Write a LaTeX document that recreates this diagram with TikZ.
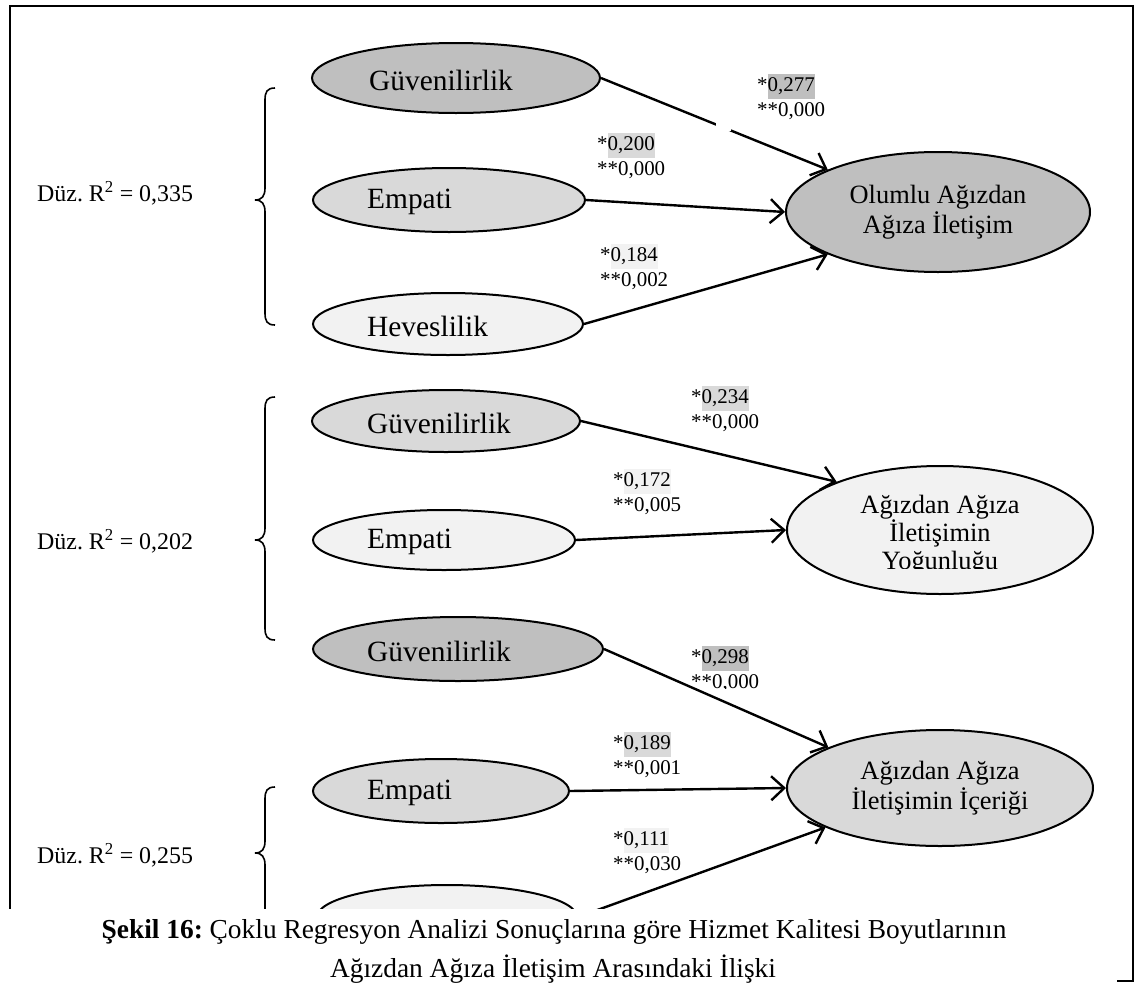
\documentclass[tikz,border=0pt]{standalone}
\usepackage{fontspec}
\setmainfont{Liberation Serif}
\usetikzlibrary{shapes.geometric,arrows.meta}
\definecolor{fillDark}{RGB}{191,191,191}
\definecolor{fillMid}{RGB}{217,217,217}
\definecolor{fillLight}{RGB}{242,242,242}
\frenchspacing
% shaded number, as in the coefficient labels
\newcommand{\hlbox}[2]{{\setlength{\fboxsep}{0pt}\colorbox{#1}{\strut #2}}}
% curly brace: spine x, top y, tip y, bottom y
\newcommand{\curlybrace}[4]{%
  \draw[bracestyle] (#1+10,#2) .. controls (#1+2,#2) and (#1,#2+4) .. (#1,#2+12)
    -- (#1,#3-12) .. controls (#1,#3-4) and (#1-3,#3) .. (#1-10,#3)
    .. controls (#1-3,#3) and (#1,#3+4) .. (#1,#3+12)
    -- (#1,#4-12) .. controls (#1,#4-4) and (#1+2,#4) .. (#1+10,#4);}
\begin{document}
\begin{tikzpicture}[x=1bp,y=-1bp,
  srcell/.style={ellipse, draw, line width=2bp, inner sep=0pt},
  dstell/.style={ellipse, draw, line width=2bp, inner sep=0pt, align=center,
    font=\fontsize{26.5}{30}\selectfont},
  srctext/.style={anchor=west, inner sep=0pt, font=\fontsize{29.5}{32}\selectfont},
  conn/.style={line width=2.4bp, -{Straight Barb[length=13bp,width=24bp]}},
  numlbl/.style={anchor=north west, inner sep=0pt, align=left,
    font=\fontsize{21}{25}\selectfont},
  rsq/.style={anchor=west, inner sep=0pt, font=\fontsize{24}{28}\selectfont},
  bracestyle/.style={line width=1.6bp},
  captext/.style={anchor=base, inner sep=0pt, font=\fontsize{27.5}{38}\selectfont}]
\useasboundingbox (0,0) rectangle (1138,987);

% outer frame
\draw[line width=2.5bp] (10,6) rectangle (1133,981);

% predictor ellipses
\node[srcell, fill=fillDark,  minimum width=288bp, minimum height=70bp] (g1) at (456,78) {};
\node[srcell, fill=fillMid,   minimum width=272bp, minimum height=64bp] (e1) at (449,200) {};
\node[srcell, fill=fillLight, minimum width=270bp, minimum height=62bp] (h1) at (448,324) {};
\node[srcell, fill=fillMid,   minimum width=268bp, minimum height=62bp] (g2) at (446,421) {};
\node[srcell, fill=fillLight, minimum width=262bp, minimum height=60bp] (e2) at (444,540) {};
\node[srcell, fill=fillDark,  minimum width=290bp, minimum height=64bp] (g3) at (458,649) {};
\node[srcell, fill=fillMid,   minimum width=256bp, minimum height=64bp] (e3) at (441,791) {};
\node[srcell, fill=fillLight, minimum width=260bp, minimum height=64bp] (x4) at (447,917) {};

\node[srctext] (tg1) at (369,80) {Güvenilirlik};
\node[srctext] (te1) at (367,202) {Empati};
\node[srctext] (th1) at (367,326) {Heveslilik};
\node[srctext] (tg2) at (367,423) {Güvenilirlik};
\node[srctext] (te2) at (367,542) {Empati};
\node[srctext] (tg3) at (367,651) {Güvenilirlik};
\node[srctext] (te3) at (367,793) {Empati};
\begin{scope}
  \clip (300,880) rectangle (600,909);
  \node[srctext] (tx4) at (369,920) {Güven};
\end{scope}

% outcome ellipses
\node[dstell, fill=fillDark, minimum width=304bp, minimum height=120bp] (A) at (938,212)
  {Olumlu Ağızdan\\Ağıza İletişim};
\node[dstell, fill=fillLight, minimum width=306bp, minimum height=128bp] (B) at (940,530) {};
\begin{scope}
  \clip (780,455) rectangle (1100,568);
  \node[dstell, draw=none, font=\fontsize{26.5}{28}\selectfont] (tB) at (940,535)
    {Ağızdan Ağıza\\İletişimin\\Yoğunluğu};
\end{scope}
\node[dstell, fill=fillMid, minimum width=306bp, minimum height=116bp] (C) at (940,788)
  {Ağızdan Ağıza\\İletişimin İçeriği};

% regression paths
\draw[conn] (g1.east) -- (A.159);
\draw[conn] (e1.east) -- (A.west);
\draw[conn] (h1.east) -- (A.201);
\draw[conn] (g2.east) -- (B.155);
\draw[conn] (e2.east) -- (B.west);
\draw[conn] (g3.east) -- (C.160);
\draw[conn] (e3.east) -- (C.west);
\draw[conn] (x4.east) -- (C.199);
\fill[white] (716,120) rectangle (731,131);

% coefficients (*) and significance (**)
\node[numlbl] (c1) at (757,74)  {*\hlbox{fillDark}{0,277}\\**0,000};
\node[numlbl] (c2) at (597,133) {*\hlbox{fillMid}{0,200}\\**0,000};
\node[numlbl] (c3) at (600,244) {*\hlbox{fillLight}{0,184}\\**0,002};
\node[numlbl] (c4) at (691,386) {*\hlbox{fillMid}{0,234}\\**0,000};
\node[numlbl] (c5) at (613,469) {*\hlbox{fillLight}{0,172}\\**0,005};
\begin{scope}
  \clip (680,640) rectangle (790,688);
  \node[numlbl] (c6) at (691,646) {*\hlbox{fillDark}{0,298}\\**0,000};
\end{scope}
\node[numlbl] (c7) at (613,732) {*\hlbox{fillMid}{0,189}\\**0,001};
\node[numlbl] (c8) at (613,828) {*\hlbox{fillLight}{0,111}\\**0,030};

% braces and adjusted R-squared values
\curlybrace{265}{88}{200}{325}
\curlybrace{265}{397}{540}{640}
\curlybrace{265}{787}{853}{930}
\node[rsq] (r1) at (37,193) {Düz. R\textsuperscript{2} = 0,335};
\node[rsq] (r2) at (37,541) {Düz. R\textsuperscript{2} = 0,202};
\node[rsq] (r3) at (37,855) {Düz. R\textsuperscript{2} = 0,255};

% caption
\fill[white] (0,909) rectangle (1117,987);
\node[captext] (cap1) at (554,938)
  {\textbf{Şekil 16:} Çoklu Regresyon Analizi Sonuçlarına göre Hizmet Kalitesi Boyutlarının};
\node[captext] (cap2) at (553,977) {Ağızdan Ağıza İletişim Arasındaki İlişki};
\end{tikzpicture}
\end{document}
